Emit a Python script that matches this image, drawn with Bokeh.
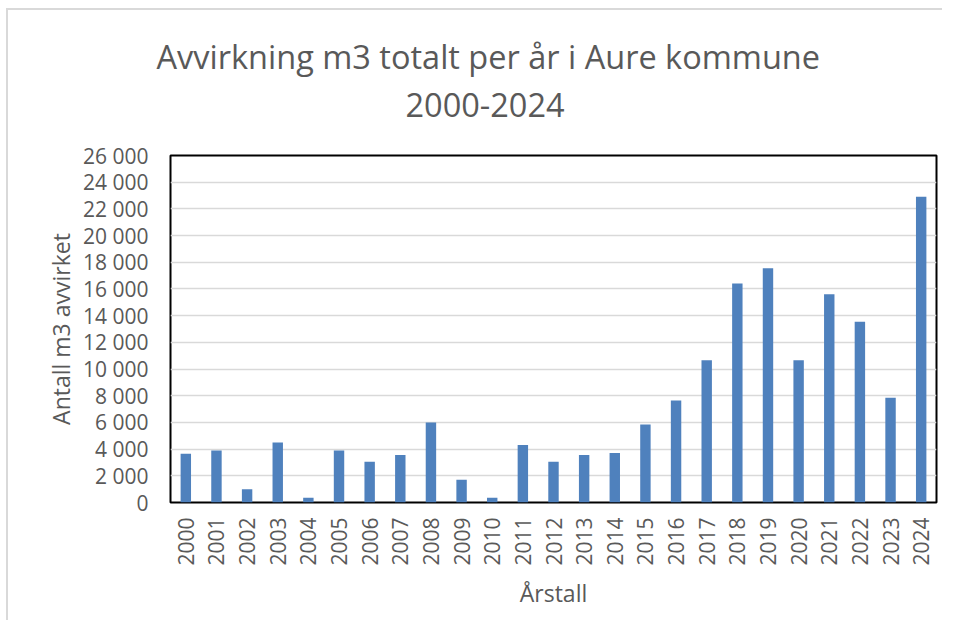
import math
from bokeh.plotting import figure
from bokeh.models import Range1d, FixedTicker, CustomJSTickFormatter, Title, ColumnDataSource
from bokeh.embed import file_html
from bokeh.resources import INLINE

years = ["2000", "2001", "2002", "2003", "2004", "2005", "2006", "2007", "2008",
         "2009", "2010", "2011", "2012", "2013", "2014", "2015", "2016", "2017",
         "2018", "2019", "2020", "2021", "2022", "2023", "2024"]
volumes = [3650, 3900, 1000, 4500, 350, 3900, 3050, 3550, 6000,
           1700, 350, 4300, 3050, 3550, 3700, 5850, 7650, 10650,
           16400, 17550, 10650, 15600, 13550, 7850, 22900]
y_ticks = [0, 2000, 4000, 6000, 8000, 10000, 12000, 14000, 16000, 18000,
           20000, 22000, 24000, 26000]

title_line1 = "Avvirkning m3 totalt per år i Aure kommune"
title_line2 = "2000-2024"
y_label = "Antall m3 avvirket"
x_label = "Årstall"

FONT = "Open Sans"
GREY = "#595959"

p = figure(x_range=years, y_range=Range1d(0, 26000),
           width=936, height=612, output_backend="svg", toolbar_location=None,
           min_border_left=162, min_border_right=8, min_border_top=145,
           min_border_bottom=120)
p.title = None

src = ColumnDataSource(dict(year=years, vol=volumes))
p.vbar(x="year", top="vol", width=0.34, source=src, fill_color="#4f81bd",
       line_color=None)

spacer = Title(text=" ", align="left", text_font=FONT, text_font_size="1px",
               standoff=27)
t2 = Title(text=title_line2, align="left", offset=235, text_font=FONT,
           text_font_size="32.5px", text_color=GREY, text_font_style="normal",
           standoff=18)
t1 = Title(text=title_line1, align="left", offset=-14, text_font=FONT,
           text_font_size="32.5px", text_color=GREY, text_font_style="normal",
           standoff=6)
p.add_layout(spacer, "above")
p.add_layout(t2, "above")
p.add_layout(t1, "above")

p.outline_line_color = "black"
p.outline_line_width = 2

p.xgrid.grid_line_color = None
p.ygrid.grid_line_color = "#d9d9d9"
p.ygrid.grid_line_width = 1.5

p.yaxis.ticker = FixedTicker(ticks=y_ticks)
p.yaxis.formatter = CustomJSTickFormatter(code="""
    return tick.toFixed(0).replace(/\\B(?=(\\d{3})+(?!\\d))/g, " ");
""")

for ax in (p.xaxis, p.yaxis):
    ax.axis_line_color = None
    ax.major_tick_line_color = None
    ax.minor_tick_line_color = None
    ax.major_tick_in = 0
    ax.major_tick_out = 0
    ax.minor_tick_in = 0
    ax.minor_tick_out = 0
    ax.major_label_text_font = FONT
    ax.major_label_text_font_size = "21px"
    ax.major_label_text_color = GREY
    ax.axis_label_text_font = FONT
    ax.axis_label_text_font_size = "23px"
    ax.axis_label_text_color = GREY
    ax.axis_label_text_font_style = "normal"

p.yaxis.axis_label = y_label
p.yaxis.major_label_standoff = 22
p.yaxis.axis_label_standoff = 3

p.xaxis.axis_label = x_label
p.xaxis.major_label_orientation = math.pi / 2
p.xaxis.major_label_standoff = 15
p.xaxis.axis_label_standoff = 8

p.styles = {"margin-left": "6px", "margin-top": "8px",
            "border-top": "2px solid #d9d9d9", "border-left": "2px solid #d9d9d9"}

open("out.html", "w").write(file_html(p, INLINE))
